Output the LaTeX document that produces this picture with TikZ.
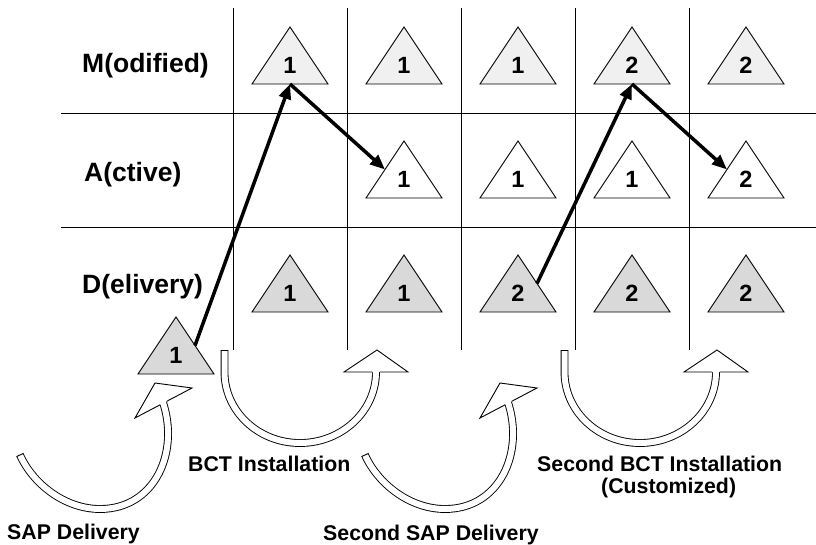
\documentclass[tikz,border=0pt]{standalone}
\usepackage{fontspec}
\setmainfont{Liberation Sans}
\usetikzlibrary{arrows.meta}
\definecolor{fillM}{HTML}{F0F0F0}
\definecolor{fillA}{HTML}{FFFFFF}
\definecolor{fillD}{HTML}{D9D9D9}
\begin{document}
\begin{tikzpicture}[x=1pt,y=-1pt,
  gridline/.style={line width=1pt, black},
  triline/.style={line width=0.9pt, black, line join=miter},
  numtext/.style={font=\fontsize{23.5}{23.5}\selectfont\bfseries, inner sep=0pt, anchor=base},
  rowlabel/.style={font=\fontsize{26.5}{26.5}\selectfont\bfseries, inner sep=0pt, anchor=base west},
  caption/.style={font=\fontsize{21.3}{21.3}\selectfont\bfseries, inner sep=0pt, anchor=base west},
  flow/.style={line width=3.5pt, -{Triangle[length=15pt,width=12pt]}},
  bandshaft/.style={draw=black, line width=0.9pt, double=white, double distance=6pt},
  bandedge/.style={draw=black, line width=0.9pt, line join=miter},
  pics/tri/.style 2 args={code={
    \draw[triline, fill=#1] (-38,28.5) -- (0,-28.5) -- (38,28.5) -- cycle;
    \node[numtext] (-n) at (0,18) {#2};
    \coordinate (-base) at (0,28.5);
    \coordinate (-left) at (-19,0);
    \coordinate (-right) at (19,0);
  }},
  pics/upcurve/.style={code={
    \path[bandshaft] (224.5,350) -- (224.5,372) .. controls (224.5,411) and (258,443) .. (300,443)
       .. controls (342,443) and (376,411) .. (376,372) -- (376,369);
    \draw[line width=0.9pt] (220.6,350) -- (228.4,350);
    \fill[white] (344,372) -- (377,350) -- (408,372) -- cycle;
    \draw[bandedge] (372.1,372) -- (344,372) -- (377,350) -- (408,372) -- (379.9,372);
  }},
  pics/sidecurve/.style={code={
    \path[bandshaft] (20,455) .. controls (33,484) and (65,509) .. (100,509)
       .. controls (155,509) and (180,452) .. (162.6,401.2);
    \draw[line width=0.9pt] (16.44,456.6) -- (23.56,453.4);
    \fill[white] (135,418) -- (155,383) -- (192,388) -- cycle;
    \draw[bandedge] (160.05,404.82) -- (135,418) -- (155,383) -- (192,388) -- (166.95,401.18);
  }}
]
\useasboundingbox (0,0) rectangle (816,545);
\fill[white] (0,0) rectangle (816,545);

% grid
\foreach \gx in {233,347,461,575,689} \draw[gridline] (\gx,8) -- (\gx,350);
\foreach \gy in {114,228} \draw[gridline] (61,\gy) -- (816,\gy);

% row labels
\node[rowlabel] (lm) at (82,73) {M(odified)};
\node[rowlabel] (la) at (84,182) {A(ctive)};
\node[rowlabel] (ld) at (82,293) {D(elivery)};

% triangles
\pic (m1) at (290,55.5) {tri={fillM}{1}};
\pic (m2) at (404,55.5) {tri={fillM}{1}};
\pic (m3) at (518,55.5) {tri={fillM}{1}};
\pic (m4) at (632,55.5) {tri={fillM}{2}};
\pic (m5) at (746,55.5) {tri={fillM}{2}};
\pic (a2) at (404,169.5) {tri={fillA}{1}};
\pic (a3) at (518,169.5) {tri={fillA}{1}};
\pic (a4) at (632,169.5) {tri={fillA}{1}};
\pic (a5) at (746,169.5) {tri={fillA}{2}};
\pic (d1) at (290,283.5) {tri={fillD}{1}};
\pic (d2) at (404,283.5) {tri={fillD}{1}};
\pic (d3) at (518,283.5) {tri={fillD}{2}};
\pic (d4) at (632,283.5) {tri={fillD}{2}};
\pic (d5) at (746,283.5) {tri={fillD}{2}};
\pic (d0) at (176,345.5) {tri={fillD}{1}};

% transport arrows
\draw[flow] (d0-right) -- (m1-base);
\draw[flow] (m1-base) -- (a2-left);
\draw[flow] (d3-right) -- (m4-base);
\draw[flow] (m4-base) -- (a5-left);

% curved block arrows
\pic at (0,0) {sidecurve};
\pic at (345,0) {sidecurve};
\pic at (0,0) {upcurve};
\pic at (340,0) {upcurve};

% captions
\node[caption] (c1) at (7,539) {SAP Delivery};
\node[caption] (c2) at (188,471) {BCT Installation};
\node[caption] (c3) at (323,540) {Second SAP Delivery};
\node[caption] (c4) at (537,471) {Second BCT Installation};
\node[caption] (c5) at (601,493) {(Customized)};
\end{tikzpicture}
\end{document}
